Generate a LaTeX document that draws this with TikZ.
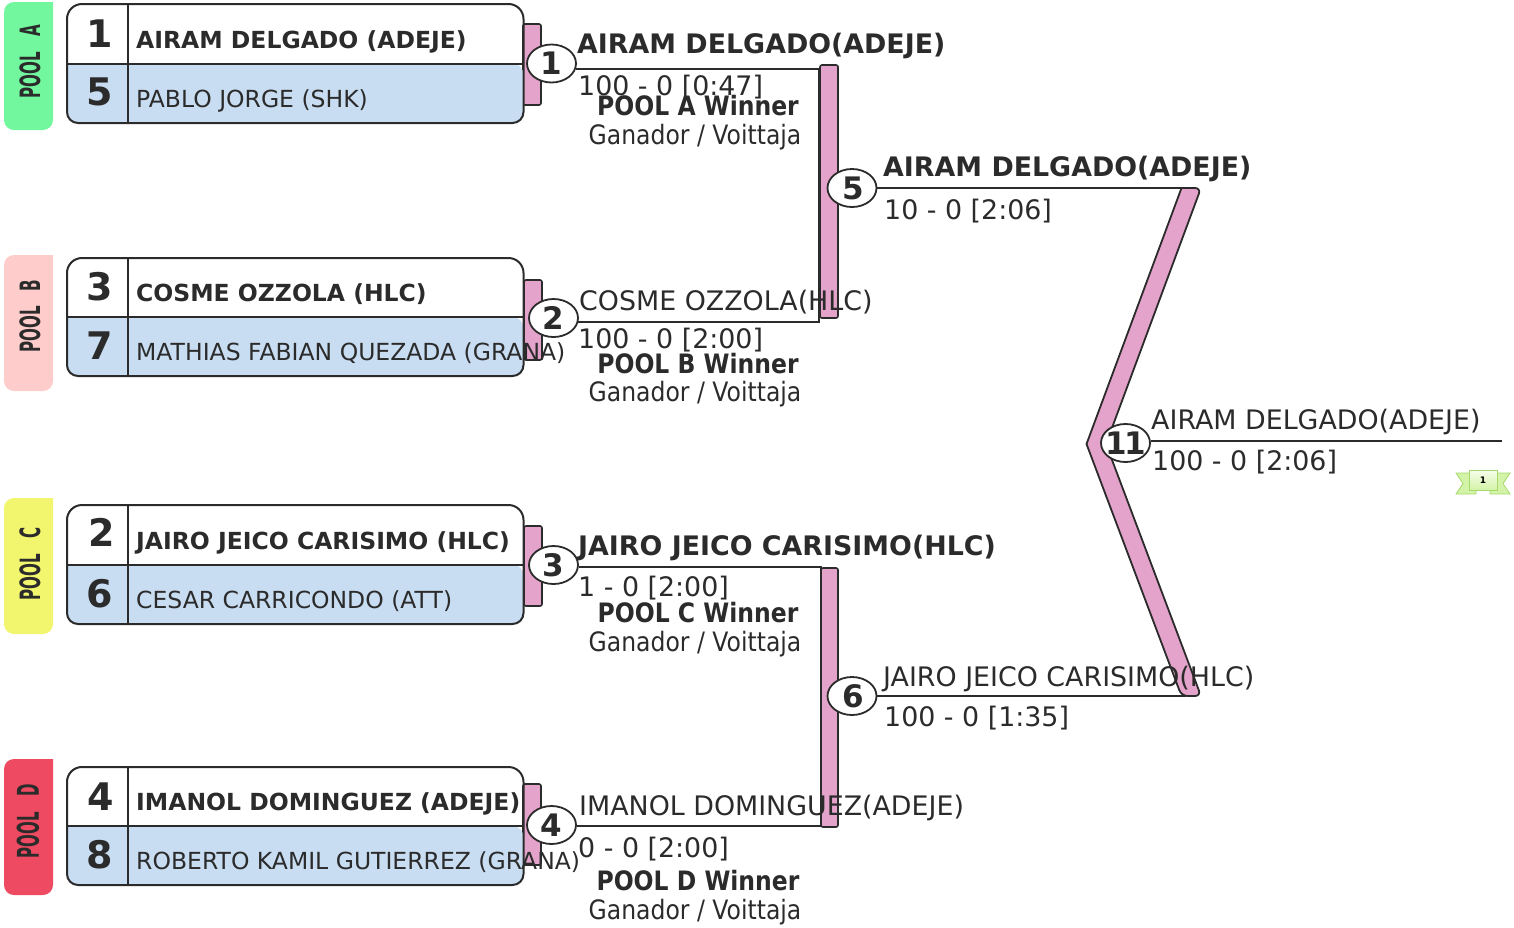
\documentclass[tikz,border=0pt]{standalone}
\usepackage{fontspec}
\setmainfont{DejaVu Sans}
\newfontfamily\condfont[FakeStretch=0.88]{DejaVu Sans}
\newfontfamily\poolfont[FakeStretch=0.54]{DejaVu Sans}
\newfontfamily\poolfontd[FakeStretch=0.5]{DejaVu Sans}
\usetikzlibrary{shapes.geometric}
\definecolor{ink}{HTML}{2B2B2B}
\definecolor{rowblue}{HTML}{C8DDF2}
\definecolor{barpink}{HTML}{E3A3CA}
\definecolor{poola}{HTML}{72F79F}
\definecolor{poolb}{HTML}{FFCCCC}
\definecolor{poolc}{HTML}{F2F56E}
\definecolor{poold}{HTML}{EE4A62}
\definecolor{ribtop}{HTML}{F6FDEB}
\definecolor{ribfill}{HTML}{D3F3A8}
\definecolor{ribline}{HTML}{A6D96A}
\tikzset{
  pooltxt/.style={inner sep=0pt,text=ink,rotate=90,font=\poolfont\bfseries\fontsize{28}{28}\selectfont},
  pooltxtd/.style={inner sep=0pt,text=ink,rotate=90,font=\poolfontd\bfseries\fontsize{30}{30}\selectfont},
  barbox/.style={draw=ink,line width=1.6pt,fill=barpink,rounded corners=2pt},
  frame/.style={draw=ink,line width=2pt},
  wire/.style={draw=ink,line width=1.8pt},
  seed/.style={inner sep=0pt,anchor=base,text=ink,font=\bfseries\fontsize{38}{38}\selectfont},
  lblbold/.style={inner sep=0pt,anchor=base west,text=ink,font=\bfseries\fontsize{23.5}{24}\selectfont},
  lblreg/.style={inner sep=0pt,anchor=base west,text=ink,font=\fontsize{23.5}{24}\selectfont},
  winbold/.style={inner sep=0pt,anchor=base west,text=ink,font=\bfseries\fontsize{26.85}{27}\selectfont},
  winreg/.style={inner sep=0pt,anchor=base west,text=ink,font=\fontsize{26.85}{27}\selectfont},
  poolbold/.style={inner sep=0pt,anchor=base,text=ink,font=\condfont\bfseries\fontsize{26.7}{27}\selectfont},
  poolreg/.style={inner sep=0pt,anchor=base,text=ink,font=\condfont\fontsize{26.7}{27}\selectfont},
  roundnum/.style={ellipse,draw=ink,line width=1.8pt,fill=white,minimum width=49pt,minimum height=38pt,inner sep=0pt,text=ink,font=\bfseries\fontsize{31}{31}\selectfont},
}
\newcommand{\matchbox}[3]{% top, divider, bottom
  \fill[rowblue,rounded corners=11pt] (67,#2) -- (67,#3) -- (523.5,#3) -- (523.5,#2) [sharp corners] -- cycle;
  \draw[frame,rounded corners=15pt] (67,#1+30) -- (67,#1) -- (523.5,#1) -- (523.5,#1+30) [sharp corners] -- (523.5,#3-30) [rounded corners=11pt] -- (523.5,#3) -- (67,#3) -- (67,#3-30) [sharp corners] -- cycle;
  \draw[frame] (67,#2) -- (523.5,#2);
  \draw[frame] (127.5,#1) -- (127.5,#3);
}
\begin{document}
\begin{tikzpicture}[x=1pt,y=-1pt]
\useasboundingbox (0,0) rectangle (1514,927);
% pool tabs
\fill[poola,rounded corners=10pt] (53,2) -- (4,2) -- (4,130) -- (53,130) [sharp corners] -- cycle;
\fill[poolb,rounded corners=10pt] (53,255) -- (4,255) -- (4,391) -- (53,391) [sharp corners] -- cycle;
\fill[poolc,rounded corners=10pt] (53,498) -- (4,498) -- (4,634) -- (53,634) [sharp corners] -- cycle;
\fill[poold,rounded corners=10pt] (53,759) -- (4,759) -- (4,895) -- (53,895) [sharp corners] -- cycle;
\node[pooltxt] (ta) at (30,61.5) {POOL\hspace{.35em} A};
\node[pooltxt] (tb) at (30,316) {POOL\hspace{.35em} B};
\node[pooltxt] (tc) at (30,564) {POOL\hspace{.35em} C};
\node[pooltxtd] (td) at (28,821) {POOL\hspace{.35em} D};
% pink side bars
\draw[barbox] (523,24) rectangle (541,105);
\draw[barbox] (524,280) rectangle (542,360);
\draw[barbox] (524,526) rectangle (542,606);
\draw[barbox] (523,784) rectangle (541,865);
% match boxes
\matchbox{4}{63.5}{123}
\matchbox{258}{317}{376}
\matchbox{505}{564.5}{624}
\matchbox{767}{826}{885}
% seeds
\node[seed] (s1) at (100,47.5) {1};
\node[seed] (s5) at (100,105.5) {5};
\node[seed] (s3) at (100,300) {3};
\node[seed] (s7) at (100,359) {7};
\node[seed] (s2) at (102,546) {2};
\node[seed] (s6) at (100,607) {6};
\node[seed] (s4) at (101,810) {4};
\node[seed] (s8) at (100,868) {8};
% names
\node[lblbold] (n1) at (136,48) {AIRAM DELGADO (ADEJE)};
\node[lblreg] (n5) at (136,107) {PABLO JORGE (SHK)};
\node[lblbold] (n3) at (136,301) {COSME OZZOLA (HLC)};
\node[lblreg] (n7) at (136,360) {MATHIAS FABIAN QUEZADA (GRANA)};
\node[lblbold] (n2) at (136,549) {JAIRO JEICO CARISIMO (HLC)};
\node[lblreg] (n6) at (136,608) {CESAR CARRICONDO (ATT)};
\node[lblbold] (n4) at (136,810) {IMANOL DOMINGUEZ (ADEJE)};
\node[lblreg] (n8) at (136,869) {ROBERTO KAMIL GUTIERREZ (GRANA)};
% later round bars
\draw[barbox] (820,65) rectangle (838,318);
\draw[barbox] (821,568) rectangle (838,827);
\draw[draw=ink,fill=barpink,line width=1.8pt,line join=miter,miter limit=10] (1086.5,444) -- (1181.5,188) [rounded corners=6pt] -- (1201,188) -- (1106,444) -- (1201,696) -- (1181.5,696) [sharp corners] -- cycle;
% round circles
\node[roundnum] (c1) at (551.5,63.5) {1};
\node[roundnum] (c2) at (553.5,318) {2};
\node[roundnum] (c3) at (553.5,565) {3};
\node[roundnum] (c4) at (551.5,825) {4};
\node[roundnum] (c5) at (852,188) {\kern2pt 5};
\node[roundnum] (c6) at (852,696) {\kern2pt 6};
\node[roundnum] (c11) at (1125.5,443) {\makebox[0pt]{1\kern-3pt 1}};
% connectors
\coordinate (j1) at (819,69);
\coordinate (j2) at (819,322);
\coordinate (j3) at (821,567);
\coordinate (j4) at (821,826);
\coordinate (j5) at (1186,188);
\coordinate (j6) at (1186,696);
\coordinate (jf) at (1502,441);
\draw[wire] (c1.-13 |- j1) -- (j1) -- (j2) -- (c2.-13 |- j2);
\draw[wire] (c3.east |- j3) -- (j3) -- (j4) -- (c4.east |- j4);
\draw[wire] (c5.east) -- (j5);
\draw[wire] (c6.east) -- (j6);
\draw[wire] (c11.east |- jf) -- (jf);
% results
\node[winbold] (w1) at (577,53) {AIRAM DELGADO(ADEJE)};
\node[winreg] (r1) at (578,95) {100 - 0 [0:47]};
\node[winreg] (w2) at (579,310) {COSME OZZOLA(HLC)};
\node[winreg] (r2) at (578,348) {100 - 0 [2:00]};
\node[winbold] (w3) at (578,555) {JAIRO JEICO CARISIMO(HLC)};
\node[winreg] (r3) at (578,596) {1 - 0 [2:00]};
\node[winreg] (w4) at (579,815) {IMANOL DOMINGUEZ(ADEJE)};
\node[winreg] (r4) at (578,857) {0 - 0 [2:00]};
\node[winbold] (w5) at (883,176) {AIRAM DELGADO(ADEJE)};
\node[winreg] (r5) at (884,219) {10 - 0 [2:06]};
\node[winreg] (w6) at (883,686) {JAIRO JEICO CARISIMO(HLC)};
\node[winreg] (r6) at (884,726) {100 - 0 [1:35]};
\node[winreg] (w11) at (1151,429) {AIRAM DELGADO(ADEJE)};
\node[winreg] (r11) at (1152,470) {100 - 0 [2:06]};
% pool notes
\node[poolbold] (pa) at (698,115) {POOL A Winner};
\node[poolreg] (ga) at (695,144) {Ganador / Voittaja};
\node[poolbold] (pb) at (698,373) {POOL B Winner};
\node[poolreg] (gb) at (695,401) {Ganador / Voittaja};
\node[poolbold] (pc) at (698,622) {POOL C Winner};
\node[poolreg] (gc) at (695,651) {Ganador / Voittaja};
\node[poolbold] (pd) at (698,890) {POOL D Winner};
\node[poolreg] (gd) at (695,919) {Ganador / Voittaja};
% ribbon
\draw[ribline,fill=ribfill,line width=.8pt] (1456,473) -- (1470,473) -- (1470,490) -- (1476,490) -- (1476,494) -- (1456,494) -- (1463,483.5) -- cycle;
\draw[ribline,fill=ribfill,line width=.8pt] (1510,473) -- (1496,473) -- (1496,490) -- (1490,490) -- (1490,494) -- (1510,494) -- (1503,483.5) -- cycle;
\node[draw=ribline,top color=ribtop,bottom color=ribfill,line width=.8pt,minimum width=28pt,minimum height=20pt,inner sep=0pt,text=black,font=\bfseries\fontsize{9}{9}\selectfont] (rib) at (1483,480) {1};
\end{tikzpicture}
\end{document}
